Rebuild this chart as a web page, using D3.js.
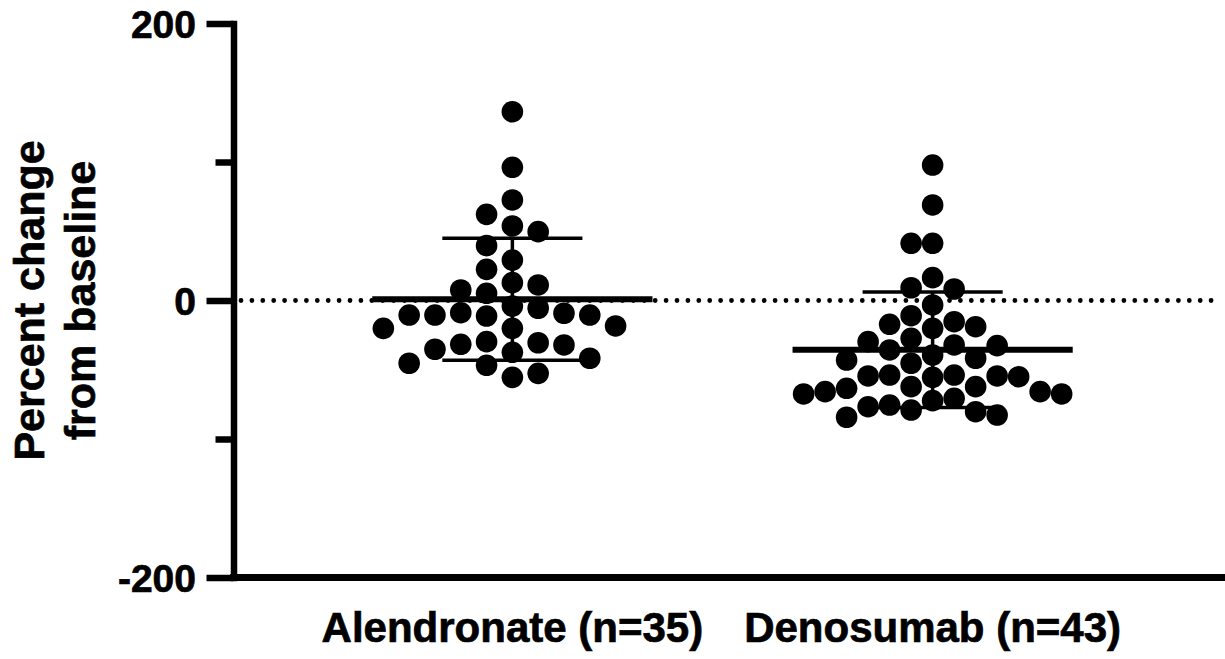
<!DOCTYPE html>
<html>
<head>
<meta charset="utf-8">
<script src="https://cdn.jsdelivr.net/npm/d3@7"></script>
<style>
  html, body { margin: 0; padding: 0; background: #fff; }
  svg { display: block; }
  text { font-family: "Liberation Sans", Arial, Helvetica, sans-serif; font-weight: bold; fill: #000; stroke: #000; stroke-width: 0.7px; }
</style>
</head>
<body>
<svg id="chart" width="1225" height="659"></svg>
<script>
// Groups shown along the x axis
const groups = ["Alendronate (n=35)", "Denosumab (n=43)"];

// Percent change from baseline, one value per patient
const alendronate = [136.3, 96.2, 72.6, 62.2, 53.8, 49.7, 39.6, 29.2, 22.5, 11.2,
  12.9, 7.6, 5.2, -5.6, -4.0, -9.2, -10.5, -10.5, -11.2, -10.5,
  -8.8, -18.4, -20.1, -20.1, -31.6, -30.5, -32.1, -29.7, -37.4, -41.7,
  -35.2, -46.8, -45.3, -52.6, -55.5];

const denosumab = [97.8, 69.0, 41.3, 41.3, 16.5, 8.3, 9.2, -3.2, -11.0, -17.2,
  -20.1, -18.9, -15.3, -32.6, -39.4, -35.7, -32.1, -27.3, -29.7, -43.0,
  -41.7, -45.3, -55.5, -55.0, -53.8, -54.5, -53.8, -54.5, -65.8, -62.2,
  -63.4, -67.5, -62.2, -65.8, -67.5, -79.1, -75.5, -70.6, -72.3, -80.3,
  -76.7, -82.7, -84.3];

// Y axis ticks
const majorTicks = [-200, 0, 200];
const minorTicks = [-100, 100];

// Y axis title, two lines
const yTitle = ["Percent change", "from baseline"];

const series = [alendronate, denosumab];

const svg = d3.select("#chart");

const y = d3.scaleLinear().domain([-200, 200]).range([577.5, 23.5]);
const x = d3.scalePoint().domain(groups).range([235, 1210]).padding(0.66);
const axisX = 233.5;
const dotR = 10.8;

// Reference line at zero
svg.append("line")
  .attr("x1", 241).attr("x2", 1212)
  .attr("y1", y(0)).attr("y2", y(0))
  .attr("stroke", "#000")
  .attr("stroke-width", 4.8)
  .attr("stroke-linecap", "round")
  .attr("stroke-dasharray", "0 10.9");

// Column scatter: points sorted by value, each dropped into the column
// nearest the centre where it does not collide with the previous point.
function swarm(values, cx, r, halfWidth) {
  const pts = values.map(v => ({ v, y: y(v) })).sort((a, b) => a.y - b.y);
  const last = new Map();
  const minGap = 2 * r + 0.4;
  let maxK = 0;
  pts.forEach(p => {
    for (let n = 0; ; n++) {
      const k = n === 0 ? 0 : (n % 2 ? -Math.ceil(n / 2) : n / 2);
      const prev = last.get(k);
      if (prev === undefined || p.y - prev >= minGap) {
        p.k = k;
        last.set(k, p.y);
        maxK = Math.max(maxK, Math.abs(k));
        break;
      }
    }
  });
  const step = maxK ? Math.min(halfWidth / maxK, 2.4 * r) : 0;
  pts.forEach(p => { p.x = cx + p.k * step; });
  return pts;
}

const band = x.step();

groups.forEach((g, i) => {
  const vals = series[i];
  const cx = x(g);
  const pts = swarm(vals, cx, dotR, band * 0.307);

  svg.append("g").selectAll("circle")
    .data(pts)
    .join("circle")
    .attr("cx", d => d.x)
    .attr("cy", d => d.y)
    .attr("r", dotR)
    .attr("fill", "#000");

  const m = d3.mean(vals);
  const sd = d3.deviation(vals);
  const stats = svg.append("g").attr("stroke", "#000");

  // mean
  stats.append("line")
    .attr("x1", cx - band / 3).attr("x2", cx + band / 3)
    .attr("y1", y(m)).attr("y2", y(m))
    .attr("stroke-width", 6);
  // SD whisker
  stats.append("line")
    .attr("x1", cx).attr("x2", cx)
    .attr("y1", y(m + sd)).attr("y2", y(m - sd))
    .attr("stroke-width", 3.5);
  [m + sd, m - sd].forEach(v => {
    stats.append("line")
      .attr("x1", cx - band / 6).attr("x2", cx + band / 6)
      .attr("y1", y(v)).attr("y2", y(v))
      .attr("stroke-width", 3.5);
  });
});

// Y axis with labelled major ticks
const yAxis = svg.append("g")
  .attr("transform", `translate(${axisX},0)`)
  .call(d3.axisLeft(y)
    .tickValues(majorTicks)
    .tickSize(27)
    .tickSizeOuter(0)
    .tickPadding(10.5)
    .tickFormat(d => String(d)));
yAxis.select(".domain")
  .attr("stroke", "#000").attr("stroke-width", 6.5).attr("stroke-linecap", "square");
yAxis.selectAll(".tick line").attr("stroke", "#000").attr("stroke-width", 6.5);
yAxis.selectAll(".tick text")
  .attr("dy", "0.36em")
  .style("font-size", "39px")
  .style("font-family", "'Liberation Sans', Arial, sans-serif")
  .style("font-weight", "bold")
  .attr("fill", "#000");

// Unlabelled minor ticks
const yMinor = svg.append("g")
  .attr("transform", `translate(${axisX},0)`)
  .call(d3.axisLeft(y).tickValues(minorTicks).tickSize(18).tickSizeOuter(0).tickFormat(""));
yMinor.select(".domain").remove();
yMinor.selectAll(".tick line").attr("stroke", "#000").attr("stroke-width", 6.5);

// X axis baseline
svg.append("line")
  .attr("x1", axisX - 3.25).attr("x2", 1225)
  .attr("y1", y(-200)).attr("y2", y(-200))
  .attr("stroke", "#000").attr("stroke-width", 7);

// Group labels
svg.append("g").selectAll("text")
  .data(groups)
  .join("text")
  .attr("x", d => x(d))
  .attr("y", 642)
  .attr("text-anchor", "middle")
  .style("font-size", "42px")
  .text(d => d);

// Y axis title
const titleY = (y(200) + y(-200)) / 2;
[44, 95].forEach((bx, i) => {
  svg.append("text")
    .attr("transform", `translate(${bx},${titleY}) rotate(-90)`)
    .attr("text-anchor", "middle")
    .style("font-size", "43px")
    .text(yTitle[i]);
});
</script>
</body>
</html>
